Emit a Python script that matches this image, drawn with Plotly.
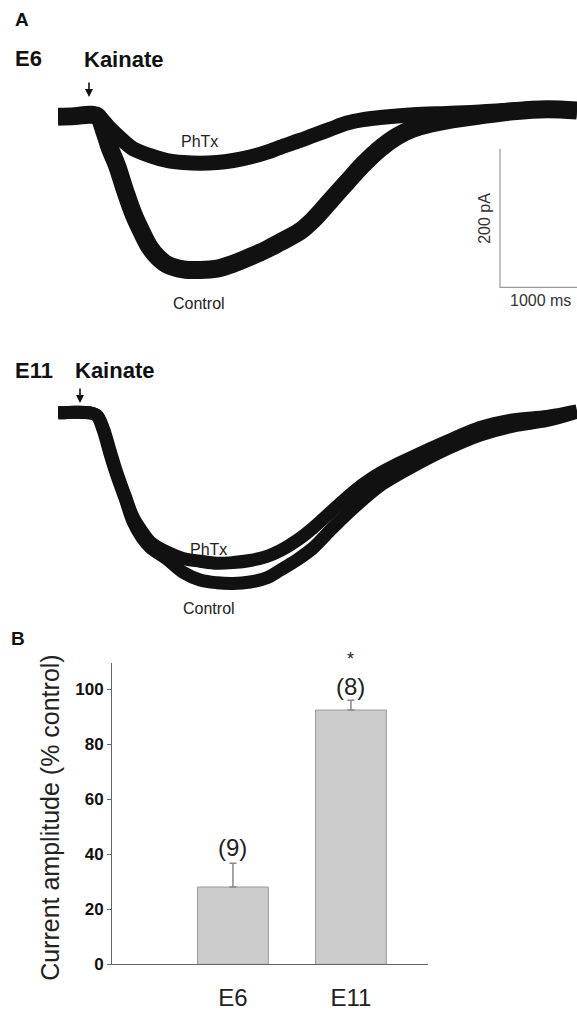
import plotly.graph_objects as go

W, H = 577, 1012
FONT = "Liberation Sans, Arial, sans-serif"

# ---------------- Data ----------------
# E6 whole-cell currents (time in ms, current in pA)
e6_phtx_t = [0, 220, 420, 545, 650, 770, 870, 975, 1195, 1415, 1625, 1845, 2065, 2275,
             2495, 2715, 2883, 3143, 3312, 3532, 3753, 3961, 4182, 4610, 5050, 5480,
             5910, 6350, 6740]
e6_phtx_i = [0, 1, 3, -1, -14, -27, -37, -46, -56, -63, -66, -67, -66, -63,
             -58, -51, -44, -34, -27, -18, -9, -4, -1, 3, 5, 7,
             10, 12, 9]

e6_ctrl_t = [0, 220, 420, 520, 610, 675, 765, 870, 975, 1090, 1195, 1300, 1415, 1625,
             1845, 2065, 2275, 2495, 2715, 2885, 3145, 3310, 3530, 3755, 3960, 4180,
             4405, 4610, 4830, 5050, 5480, 5910, 6350, 6740]
e6_ctrl_i = [0, 1, 3, 0, -24, -46, -70, -106, -139, -167, -189, -203, -213, -220,
             -221, -219, -212, -202, -191, -181, -165, -149, -122, -94, -69, -46,
             -28, -17, -10, -5, 2, 8, 11, 9]

# E11 whole-cell currents
e11_t = [0, 221, 416, 506, 584, 675, 766, 870, 974, 1091, 1195, 1416, 1623, 1844,
         2065, 2273, 2494, 2714, 2883, 3104, 3312, 3532, 3753, 3961, 4182, 4403,
         4610, 5052, 5481, 5909, 6351, 6740]
e11_phtx_i = [0, 1, 0, -4, -21, -54, -87, -119, -150, -171, -186, -201, -210, -214,
              -217, -216, -213, -207, -199, -184, -166, -144, -122, -103, -87, -74,
              -63, -41, -21, -10, -5, 3]
e11_ctrl_i = [0, 1, 0, -4, -24, -59, -91, -123, -157, -180, -194, -211, -230, -241,
              -245, -246, -244, -238, -227, -212, -195, -170, -146, -125, -105, -90,
              -77, -52, -32, -19, -11, 1]

# scale bar
scale_ms = 1000
scale_pa = 200
scale_origin_t = 5740
scale_origin_i = -246

# Panel B
categories = ["E6", "E11"]
amplitude = [28.1, 92.4]
sem = [8.6, 3.6]
n_labels = ["(9)", "(8)"]
n_label_y = [42.5, 100.8]
yticks = [0, 20, 40, 60, 80, 100]


def px(x):
    return x / W


def py(y):
    return 1 - y / H


fig = go.Figure()

# ---- E6 traces ----
fig.add_trace(go.Scatter(x=e6_ctrl_t, y=e6_ctrl_i, mode="lines",
                         line=dict(color="#111111", width=18, shape="spline", smoothing=1.0),
                         xaxis="x", yaxis="y", showlegend=False, hoverinfo="skip"))
fig.add_trace(go.Scatter(x=e6_phtx_t, y=e6_phtx_i, mode="lines",
                         line=dict(color="#111111", width=15, shape="spline", smoothing=1.0),
                         xaxis="x", yaxis="y", showlegend=False, hoverinfo="skip"))
# scale bar
fig.add_trace(go.Scatter(
    x=[scale_origin_t, scale_origin_t, scale_origin_t + scale_ms],
    y=[scale_origin_i + scale_pa, scale_origin_i, scale_origin_i],
    mode="lines", line=dict(color="#9a9a9a", width=1.2),
    xaxis="x", yaxis="y", showlegend=False, hoverinfo="skip"))

# ---- E11 traces ----
fig.add_trace(go.Scatter(x=e11_t, y=e11_ctrl_i, mode="lines",
                         line=dict(color="#111111", width=13, shape="spline", smoothing=1.0),
                         xaxis="x2", yaxis="y2", showlegend=False, hoverinfo="skip"))
fig.add_trace(go.Scatter(x=e11_t, y=e11_phtx_i, mode="lines",
                         line=dict(color="#111111", width=13, shape="spline", smoothing=1.0),
                         xaxis="x2", yaxis="y2", showlegend=False, hoverinfo="skip"))

# ---- Panel B bars ----
fig.add_trace(go.Bar(
    x=categories, y=amplitude, width=0.6,
    marker=dict(color="#cccccc", line=dict(color="#999999", width=1)),
    error_y=dict(type="data", array=sem, arrayminus=[0, 0], symmetric=False,
                 color="#888888", thickness=1.5, width=3.5),
    xaxis="x3", yaxis="y3", showlegend=False, hoverinfo="skip"))

trace_x = dict(domain=[px(58), 1], range=[0, 6740], visible=False)

fig.update_layout(
    width=W, height=H,
    margin=dict(l=0, r=0, t=0, b=0),
    paper_bgcolor="white", plot_bgcolor="white",
    font=dict(family=FONT, color="#111111"),
    xaxis=dict(**trace_x, anchor="y"),
    yaxis=dict(domain=[py(300), py(90)], range=[-(300 - 118) * 1.42857, (118 - 90) * 1.42857],
               visible=False, anchor="x"),
    xaxis2=dict(**trace_x, anchor="y2"),
    yaxis2=dict(domain=[py(600), py(400)], range=[-(600 - 417) * 1.42857, (417 - 400) * 1.42857],
                visible=False, anchor="x2"),
    xaxis3=dict(domain=[px(112), px(428)], range=[-1.025, 1.653], type="category",
                anchor="y3", showline=True, linecolor="#666666", linewidth=1,
                ticks="", showgrid=False, zeroline=False,
                tickfont=dict(size=24, color="#222222"), ticklabelstandoff=12),
    yaxis3=dict(domain=[py(974), py(670)], range=[0, 109.35], anchor="x3",
                showline=True, linecolor="#666666", linewidth=1,
                ticks="outside", ticklen=4, tickcolor="#666666",
                tickvals=yticks, showgrid=False, zeroline=False,
                tickfont=dict(size=17, color="#111111", weight="bold")),
)

ann = []


def txt(text, x, y, size, bold=False, color="#111111", angle=0):
    ann.append(dict(text=text, x=px(x), y=py(y), xref="paper", yref="paper",
                    showarrow=False, xanchor="center", yanchor="middle",
                    textangle=angle,
                    font=dict(size=size, color=color, family=FONT,
                              weight="bold" if bold else "normal")))


txt("A", 22, 20, 19, bold=True)
txt("E6", 28, 59, 22, bold=True)
txt("Kainate", 123, 60, 22, bold=True)
txt("PhTx", 199, 143, 16, color="#222222")
txt("Control", 199, 307, 16, color="#222222")
txt("200 pA", 485, 221, 16, color="#333333", angle=-90)
txt("1000 ms", 540, 303, 16, color="#333333")

txt("E11", 34, 374, 22, bold=True)
txt("Kainate", 114, 374, 22, bold=True)
txt("PhTx", 208, 555, 16, color="#222222")
txt("Control", 209, 615, 16, color="#222222")

txt("B", 18, 645, 19, bold=True)
txt("Current amplitude (% control)", 50, 826, 25, color="#222222", angle=-90)

# arrows
for hx, hy in [(89, 98), (80, 407)]:
    ann.append(dict(text="", x=px(hx), y=py(hy), xref="paper", yref="paper",
                    showarrow=True, ax=0, ay=-16, arrowhead=2, arrowsize=1,
                    arrowwidth=1.6, arrowcolor="#111111"))

# n labels and significance
for c, lab, yv in zip(categories, n_labels, n_label_y):
    ann.append(dict(text=lab, x=c, y=yv, xref="x3", yref="y3", showarrow=False,
                    font=dict(size=24, color="#222222", family=FONT)))
ann.append(dict(text="*", x="E11", y=py(666), xref="x3", yref="paper", showarrow=False,
                yanchor="middle",
                font=dict(size=18, color="#222222", family=FONT)))

fig.update_layout(annotations=ann)

fig.write_html(
    "out.html",
    config={"displayModeBar": False},
    post_script="document.body.style.margin='0px';document.body.style.overflow='hidden';",
)
